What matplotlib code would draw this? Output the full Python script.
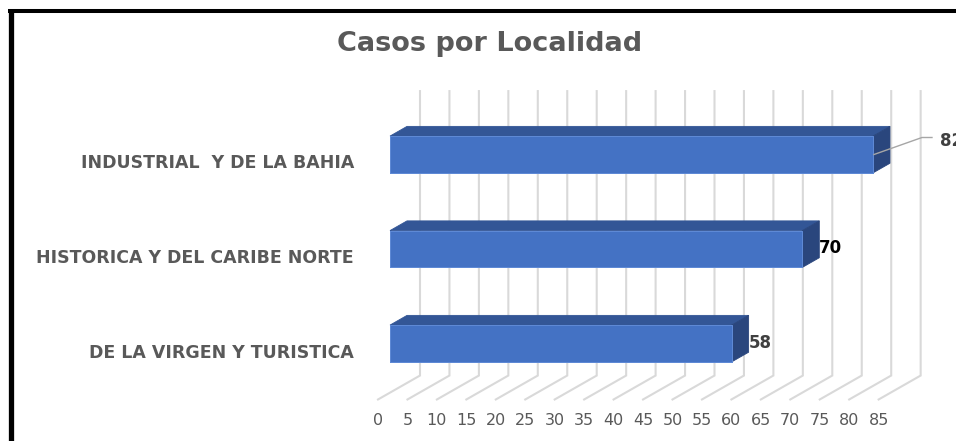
import matplotlib
matplotlib.use("Agg")
import matplotlib.pyplot as plt
import numpy as np

# ---------------------------- data ---------------------------- #
categories = [
    "DE LA VIRGEN Y TURISTICA",
    "HISTORICA Y DEL CARIBE NORTE",
    "INDUSTRIAL  Y DE LA BAHIA",
]
values = [58, 70, 82]
ticks = list(range(0, 90, 5))
title = "Casos por Localidad"

# --------------------------- layout --------------------------- #
W, H = 956, 441
X0_PX = 390.0        # pixel column of value 0 on the bar front plane
PX_PER_UNIT = 5.89   # pixels per unit on the value axis
Y0_PX = 343.5        # pixel row of the first category centre
PX_PER_CAT = 94.5    # pixels between categories
SLOPE = 0.57         # vertical shift per pixel of depth (oblique view)

BAR_H = 0.39         # bar height in category units
BAR_DEPTH = 17       # depth of the bars, px
WALL_DEPTH = 30      # back wall, px
FLOOR_DEPTH = -12    # front edge of the floor, px
C_BOTTOM, C_TOP = -0.52, 2.49

FRONT = "#4472C4"
TOP = "#335696"
SIDE = "#2A467D"
GRID = "#D9D9D9"
TEXT = "#595959"

plt.rcParams["font.family"] = ["DejaVu Sans"]


def proj(v, c, d):
    """Oblique projection: value, category, depth(px) -> data coords."""
    return v + d / PX_PER_UNIT, c + d * SLOPE / PX_PER_CAT


fig = plt.figure(figsize=(W / 100, H / 100), dpi=100)
ax = fig.add_axes([0, 0, 1, 1])
ax.set_xlim(-X0_PX / PX_PER_UNIT, (W - X0_PX) / PX_PER_UNIT)
ax.set_ylim((Y0_PX - H) / PX_PER_CAT, Y0_PX / PX_PER_CAT)
ax.axis("off")

# back wall gridlines and floor diagonals
for t in ticks:
    xb, yb = proj(t, C_BOTTOM, WALL_DEPTH)
    xt, yt = proj(t, C_TOP, WALL_DEPTH)
    xf, yf = proj(t, C_BOTTOM, FLOOR_DEPTH)
    ax.plot([xt, xb, xf], [yt, yb, yf], color=GRID, lw=1.5, zorder=1,
            solid_joinstyle="miter")
    ax.annotate(str(t), (xf, yf), xytext=(0, -21), textcoords="offset pixels",
                ha="center", va="center", fontsize=11.5, color=TEXT)

# 3D bars
for i, (cat, v) in enumerate(zip(categories, values)):
    lo, hi = i - BAR_H / 2, i + BAR_H / 2
    front = [(0, lo), (v, lo), (v, hi), (0, hi)]
    top = [(0, hi), (v, hi), proj(v, hi, BAR_DEPTH), proj(0, hi, BAR_DEPTH)]
    side = [(v, lo), proj(v, lo, BAR_DEPTH), proj(v, hi, BAR_DEPTH), (v, hi)]
    for poly, col in ((top, TOP), (side, SIDE), (front, FRONT)):
        xs, ys = zip(*poly)
        ax.fill(xs, ys, facecolor=col, edgecolor=col, lw=0.6, zorder=3)
    ax.plot([0, v, v, 0, 0], [lo, lo, hi, hi, lo], color="#5F8AD6", lw=0.7,
            zorder=4)

    ax.annotate(cat, (0, i), xytext=(-36, -9), textcoords="offset pixels",
                ha="right", va="center", fontsize=12.5, fontweight="bold",
                color=TEXT)

# data labels
label_colors = ["#404040", "#000000", "#404040"]
for i, v in enumerate(values[:2]):
    x, _ = proj(v, i, BAR_DEPTH)
    ax.annotate(str(v), (x, i), xytext=(0, 1), textcoords="offset pixels",
                ha="left", va="center", fontsize=12, fontweight="bold",
                color=label_colors[i])

# last label sits outside with a leader line
i, v = 2, values[2]
sx = v + 1 / PX_PER_UNIT
mx, my = v + 49 / PX_PER_UNIT, i + 17 / PX_PER_CAT
ex = v + 59 / PX_PER_UNIT
ax.plot([sx, mx, ex], [i, my, my], color="#A6A6A6", lw=1.0, zorder=5)
ax.annotate(str(v), (v, i), xytext=(67, 14), textcoords="offset pixels",
            ha="left", va="center", fontsize=12, fontweight="bold",
            color=label_colors[2])

# title
fig.text(490 / W, 1 - 44 / H, title, ha="center", va="center",
         fontsize=19.5, fontweight="bold", color=TEXT)

# black frame (left and top edges visible)
fig.add_artist(plt.Line2D([10.5 / W, 10.5 / W], [0, 1 - 9 / H], lw=3.8,
                          color="black", solid_capstyle="butt"))
fig.add_artist(plt.Line2D([8 / W, 1], [1 - 11 / H, 1 - 11 / H], lw=2.9,
                          color="black", solid_capstyle="butt"))

fig.savefig("out.png", dpi=100)
